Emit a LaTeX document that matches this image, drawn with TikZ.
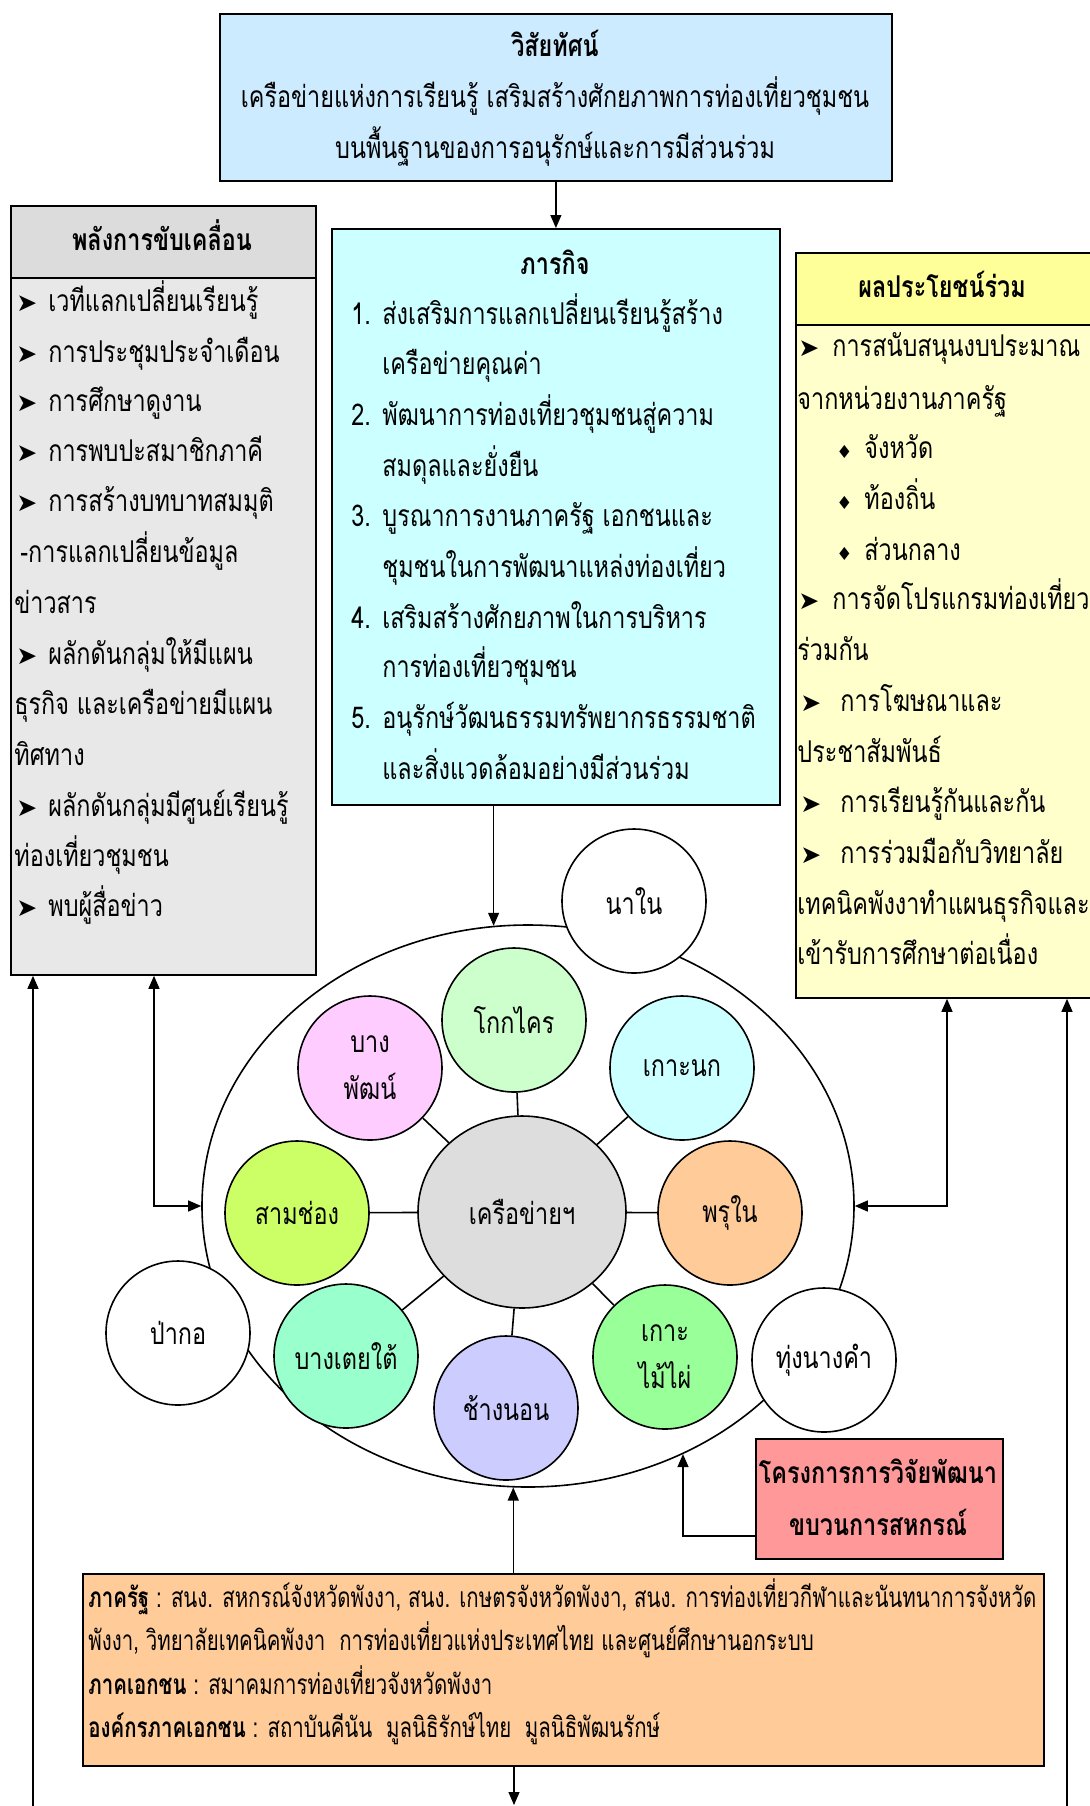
\documentclass[tikz,border=0pt]{standalone}
\usepackage{fontspec}
\setmainfont{Loma}[Script=Thai,FakeStretch=0.78]
\newfontfamily\narrowthai{Loma}[Script=Thai,FakeStretch=0.73]
\newfontfamily\symfont{DejaVu Sans}
\usetikzlibrary{shapes.geometric,arrows.meta}
\definecolor{visblue}{HTML}{CCEBFF}
\definecolor{leftgray}{HTML}{E8E8E8}
\definecolor{headgray}{HTML}{DCDCDC}
\definecolor{miscyan}{HTML}{CCFFFF}
\definecolor{benyel}{HTML}{FFFFCC}
\definecolor{headyel}{HTML}{FFFF99}
\definecolor{orgpeach}{HTML}{FFCC99}
\definecolor{redbox}{HTML}{FF9999}
\definecolor{cpink}{HTML}{FFCCFF}
\definecolor{cgreen}{HTML}{CCFFCC}
\definecolor{ccyan}{HTML}{CCFFFF}
\definecolor{clime}{HTML}{CCFF66}
\definecolor{cgray}{HTML}{DDDDDD}
\definecolor{corange}{HTML}{FFCC99}
\definecolor{cmint}{HTML}{99FFCC}
\definecolor{clav}{HTML}{CCCCFF}
\definecolor{clgreen}{HTML}{99FF99}
\newcommand{\bodyfont}{\fontsize{15}{18}\selectfont}
\newcommand{\smallthai}{\narrowthai\fontsize{14}{16}\selectfont}
\newcommand{\arw}{{\symfont\fontsize{12.5}{14}\selectfont\char"27A4}}
\newcommand{\dmd}{{\symfont\fontsize{9}{10}\selectfont\char"2666}}
\newcommand{\arwline}[5]{\node[txt] (#1a) at (#2,#4) {\arw}; \node[txt] (#1) at (#3,#4) {#5};}
\begin{document}
\begin{tikzpicture}[x=0.5pt,y=-0.5pt,
  box/.style={draw=black,line width=0.9pt,inner sep=0pt,anchor=north west},
  txt/.style={anchor=base west,inner sep=0pt,font=\bodyfont},
  ctxt/.style={anchor=base,inner sep=0pt,font=\bodyfont},
  stxt/.style={anchor=base west,inner sep=0pt,font=\smallthai},
  bubble/.style={circle,draw=black,line width=0.8pt,minimum size=72pt,inner sep=0pt,font=\fontsize{15}{23.5}\selectfont,align=center},
  arr/.style={-{Triangle[length=6.5pt,width=5.5pt]},line width=0.6pt},
  arrboth/.style={{Triangle[length=6.5pt,width=5.5pt]}-{Triangle[length=6.5pt,width=5.5pt]},line width=0.6pt},
  link/.style={line width=0.8pt}]
\useasboundingbox (0,0) rectangle (1090,1806);
\clip (0,0) rectangle (1090,1806);
\fill[white] (0,0) rectangle (1090,1806);

% vision
\node[box,fill=visblue,minimum width=336pt,minimum height=83.5pt] (vis) at (219,13) {};
\node[ctxt,font=\bodyfont\bfseries] (visT) at (555,56) {วิสัยทัศน์};
\node[ctxt] (vis1) at (555,107) {เครือข่ายแห่งการเรียนรู้ เสริมสร้างศักยภาพการท่องเที่ยวชุมชน};
\node[ctxt] (vis2) at (555,158) {บนพื้นฐานของการอนุรักษ์และการมีส่วนร่วม};

% left box
\node[box,fill=leftgray,minimum width=152.5pt,minimum height=384.5pt] (left) at (10,205) {};
\node[box,fill=headgray,minimum width=152.5pt,minimum height=36pt] (leftH) at (10,205) {};
\node[ctxt,font=\bodyfont\bfseries] (leftT) at (162,250) {พลังการขับเคลื่อน};
\arwline{l1}{16}{48}{311}{เวทีแลกเปลี่ยนเรียนรู้}
\arwline{l2}{16}{48}{362}{การประชุมประจำเดือน}
\arwline{l3}{16}{48}{411}{การศึกษาดูงาน}
\arwline{l4}{16}{48}{461}{การพบปะสมาชิกภาคี}
\arwline{l5}{16}{48}{511}{การสร้างบทบาทสมมุติ}
\node[txt] (l6) at (20,562) {-การแลกเปลี่ยนข้อมูล};
\node[txt] (l7) at (14,613) {ข่าวสาร};
\arwline{l8}{16}{48}{664}{ผลักดันกลุ่มให้มีแผน}
\node[txt] (l9) at (14,714) {ธุรกิจ และเครือข่ายมีแผน};
\node[txt] (l10) at (14,765) {ทิศทาง};
\arwline{l11}{16}{48}{816}{ผลักดันกลุ่มมีศูนย์เรียนรู้}
\node[txt] (l12) at (14,866) {ท่องเที่ยวชุมชน};
\arwline{l13}{16}{48}{916}{พบผู้สื่อข่าว}

% mission box
\node[box,fill=miscyan,minimum width=224pt,minimum height=288pt] (mis) at (331,228) {};
\node[ctxt,font=\bodyfont\bfseries] (misT) at (555,274) {ภารกิจ};
\node[txt] (m1n) at (351,324) {1.}; \node[txt] (m1) at (382,324) {ส่งเสริมการแลกเปลี่ยนเรียนรู้สร้าง};
\node[txt] (m1b) at (382,374) {เครือข่ายคุณค่า};
\node[txt] (m2n) at (351,425) {2.}; \node[txt] (m2) at (382,425) {พัฒนาการท่องเที่ยวชุมชนสู่ความ};
\node[txt] (m2b) at (382,476) {สมดุลและยั่งยืน};
\node[txt] (m3n) at (351,526) {3.}; \node[txt] (m3) at (382,526) {บูรณาการงานภาครัฐ เอกชนและ};
\node[txt] (m3b) at (382,577) {ชุมชนในการพัฒนาแหล่งท่องเที่ยว};
\node[txt] (m4n) at (351,628) {4.}; \node[txt] (m4) at (382,628) {เสริมสร้างศักยภาพในการบริหาร};
\node[txt] (m4b) at (382,677) {การท่องเที่ยวชุมชน};
\node[txt] (m5n) at (351,728) {5.}; \node[txt] (m5) at (382,728) {อนุรักษ์วัฒนธรรมทรัพยากรธรรมชาติ};
\node[txt] (m5b) at (382,779) {และสิ่งแวดล้อมอย่างมีส่วนร่วม};

% right box
\node[box,fill=benyel,minimum width=152.5pt,minimum height=372.5pt] (right) at (795,252) {};
\node[box,fill=headyel,minimum width=152.5pt,minimum height=36pt] (rightH) at (795,252) {};
\node[ctxt,font=\bodyfont\bfseries] (rightT) at (942,297) {ผลประโยชน์ร่วม};
\arwline{r1}{798}{832}{356}{การสนับสนุนงบประมาณ}
\node[txt] (r2) at (797,409) {จากหน่วยงานภาครัฐ};
\node[txt] (r3a) at (836,458) {\dmd}; \node[txt] (r3) at (864,458) {จังหวัด};
\node[txt] (r4a) at (836,509) {\dmd}; \node[txt] (r4) at (864,509) {ท้องถิ่น};
\node[txt] (r5a) at (836,560) {\dmd}; \node[txt] (r5) at (864,560) {ส่วนกลาง};
\arwline{r6}{798}{832}{609}{การจัดโปรแกรมท่องเที่ยว}
\node[txt] (r7) at (797,660) {ร่วมกัน};
\arwline{r8}{800}{840}{711}{การโฆษณาและ}
\node[txt] (r9) at (797,762) {ประชาสัมพันธ์};
\arwline{r10}{800}{840}{812}{การเรียนรู้กันและกัน}
\arwline{r11}{800}{840}{863}{การร่วมมือกับวิทยาลัย}
\node[txt] (r12) at (797,914) {เทคนิคพังงาทำแผนธุรกิจและ};
\node[txt] (r13) at (797,964) {เข้ารับการศึกษาต่อเนื่อง};

% network
\node[ellipse,draw=black,line width=0.8pt,minimum width=326pt,minimum height=281pt,inner sep=0pt] (outer) at (528,1206) {};
\node[bubble,fill=white] (naNai) at (634,901) {นาใน};
\node[bubble,fill=white] (paKor) at (178,1333) {ป่ากอ};
\node[bubble,fill=white] (thung) at (824,1360) {ทุ่งนางคำ};
\node[ellipse,draw=black,line width=0.8pt,fill=cgray,minimum width=104pt,minimum height=96pt,inner sep=0pt,font=\bodyfont] (hub) at (522,1212) {เครือข่ายฯ};
\node[bubble,fill=cgreen] (kok) at (514,1020) {โกกไคร};
\node[bubble,fill=cpink] (bangPat) at (370,1068) {บาง\\พัฒน์};
\node[bubble,fill=ccyan] (kohNok) at (682,1068) {เกาะนก};
\node[bubble,fill=clime] (sam) at (297,1213) {สามช่อง};
\node[bubble,fill=corange] (pru) at (730,1213) {พรุใน};
\node[bubble,fill=cmint] (bangTei) at (346,1356) {บางเตยใต้};
\node[bubble,fill=clav] (chang) at (506,1408) {ช้างนอน};
\node[bubble,fill=clgreen] (mai) at (665,1357) {เกาะ\\ไม้ไผ่};
\foreach \s in {kok,bangPat,kohNok,sam,pru,bangTei,chang,mai}
  \draw[link] (hub) -- (\s);

% red box
\node[box,fill=redbox,minimum width=123.5pt,minimum height=60pt] (red) at (755,1438) {};
\node[ctxt,font=\bodyfont\bfseries] (red1) at (878,1483) {โครงการการวิจัยพัฒนา};
\node[ctxt,font=\bodyfont\bfseries] (red2) at (878,1535) {ขบวนการสหกรณ์};

% bottom box
\node[box,fill=orgpeach,minimum width=480.5pt,minimum height=96pt] (org) at (82,1573) {};
\node[stxt] (o1) at (88,1607) {\textbf{ภาครัฐ} :  สนง. สหกรณ์จังหวัดพังงา, สนง. เกษตรจังหวัดพังงา, สนง. การท่องเที่ยวกีฬาและนันทนาการจังหวัด};
\node[stxt] (o2) at (88,1650) {พังงา,  วิทยาลัยเทคนิคพังงา \ การท่องเที่ยวแห่งประเทศไทย และศูนย์ศึกษานอกระบบ};
\node[stxt] (o3) at (88,1694) {\textbf{ภาคเอกชน} :  สมาคมการท่องเที่ยวจังหวัดพังงา};
\node[stxt] (o4) at (88,1737) {\textbf{องค์กรภาคเอกชน} :  สถาบันคีนัน \ มูลนิธิรักษ์ไทย \ มูลนิธิพัฒนรักษ์};

% connectors
\coordinate (lx1) at (33,1806);
\coordinate (lx2) at (154,0);
\coordinate (rx1) at (947,0);
\coordinate (rx2) at (1067,1806);
\coordinate (redout) at (755,1536);
\coordinate (botend) at (514,1805);
\draw[arr] (vis.south) -- (mis.north);
\draw[arr] (mis.south -| outer.97.5) -- (outer.97.5);
\draw[arr] (lx1) -- (lx1 |- left.south);
\draw[arrboth] (left.south -| lx2) |- (outer.west);
\draw[arrboth] (right.south -| rx1) |- (outer.east);
\draw[arr] (rx2) -- (rx2 |- right.south);
\draw[arr] (redout) -| (outer.-58);
\draw[arr] (org.north -| outer.-93) -- (outer.-93);
\draw[arr] (org.south -| botend) -- (botend);
\end{tikzpicture}
\end{document}
